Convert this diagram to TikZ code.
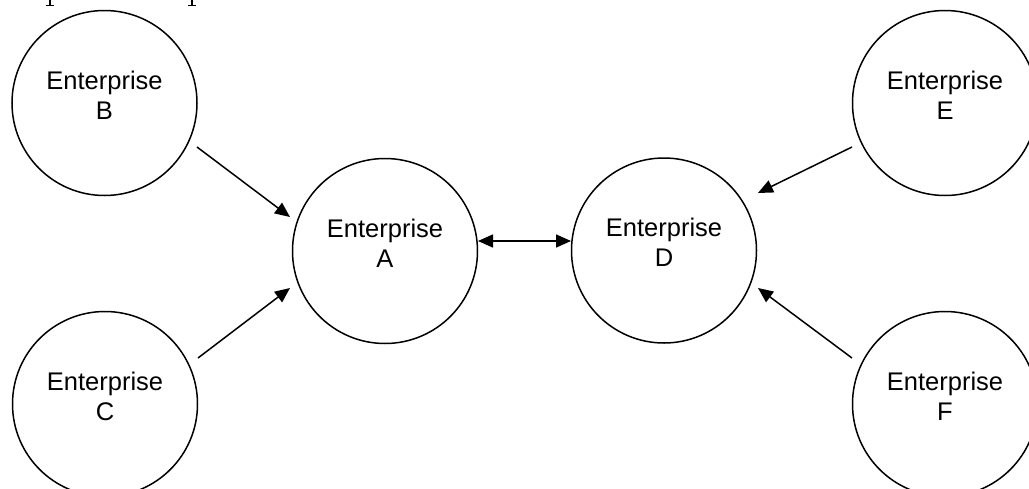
\documentclass[tikz,border=0pt]{standalone}
\usepackage{fontspec}
\setmainfont{Liberation Sans}
\usetikzlibrary{arrows.meta}
\begin{document}
\begin{tikzpicture}[x=1pt,y=-1pt,
  ent/.style={draw,line width=1.5pt,circle,minimum size=185pt,inner sep=0pt},
  lbl/.style={font=\fontsize{25.5}{30}\selectfont,align=center,inner sep=0pt},
  conn/.style={line width=1.5pt,-{Triangle[length=15pt,width=13pt]}},
  both/.style={line width=1.5pt,{Triangle[length=15pt,width=13pt]}-{Triangle[length=15pt,width=13pt]}},
  frag/.style={line width=1.3pt}]
\useasboundingbox (0,0) rectangle (1029,488);
\begin{scope}
\clip (0,0) rectangle (1029,488);
% circles
\node[ent] (B) at (104.5,103) {};
\node[ent] (C) at (105,404) {};
\node[ent] (A) at (385,251) {};
\node[ent] (D) at (664,250.5) {};
\node[ent] (E) at (945,103) {};
\node[ent] (F) at (945,404) {};
% labels
\node[lbl] (tB) at (104.5,95) {Enterprise\\B};
\node[lbl] (tC) at (105,396) {Enterprise\\C};
\node[lbl] (tA) at (385,243) {Enterprise\\A};
\node[lbl] (tD) at (664,242) {Enterprise\\D};
\node[lbl] (tE) at (945,95) {Enterprise\\E};
\node[lbl] (tF) at (945,396) {Enterprise\\F};
% connector end points
\coordinate (b1) at (197,147);
\coordinate (a1) at (290,217);
\coordinate (c1) at (198,358);
\coordinate (a2) at (290,288);
\coordinate (a3) at (478,241);
\coordinate (d1) at (571,241);
\coordinate (e1) at (852,147);
\coordinate (d2) at (758,193);
\coordinate (f1) at (852,358);
\coordinate (d3) at (758,288);
\draw[conn] (b1) -- (a1);
\draw[conn] (c1) -- (a2);
\draw[both] (a3) -- (d1);
\draw[conn] (e1) -- (d2);
\draw[conn] (f1) -- (d3);
% cropped text fragments at the top edge
\draw[frag] (50,0) -- (50,6);
\draw[frag] (192,0) -- (192,6);
\draw[line width=1pt] (46,5.5) -- (54,5.5);
\draw[line width=1pt] (188,5.5) -- (196,5.5);
\end{scope}
\end{tikzpicture}
\end{document}
